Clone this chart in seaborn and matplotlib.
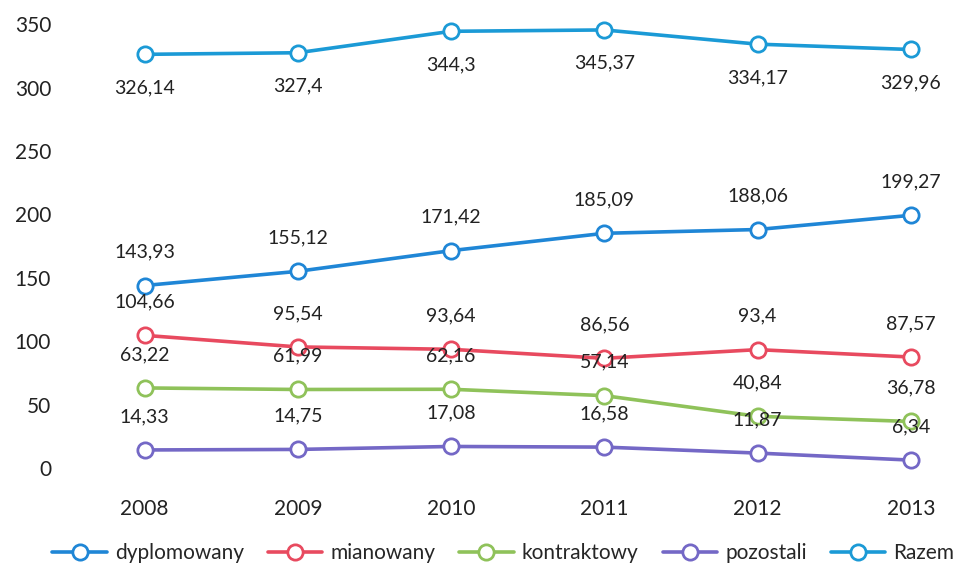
import matplotlib
matplotlib.use("Agg")
import matplotlib.pyplot as plt
import seaborn as sns
import pandas as pd

years = [2008, 2009, 2010, 2011, 2012, 2013]
dyplomowany = [143.93, 155.12, 171.42, 185.09, 188.06, 199.27]
mianowany = [104.66, 95.54, 93.64, 86.56, 93.4, 87.57]
kontraktowy = [63.22, 61.99, 62.16, 57.14, 40.84, 36.78]
pozostali = [14.33, 14.75, 17.08, 16.58, 11.87, 6.34]
razem = [326.14, 327.4, 344.3, 345.37, 334.17, 329.96]

series = [
    ("dyplomowany", dyplomowany, "#1f86d6", 1),
    ("mianowany", mianowany, "#e84a5f", 1),
    ("kontraktowy", kontraktowy, "#8fc25a", 1),
    ("pozostali", pozostali, "#7468c6", 1),
    ("Razem", razem, "#1b9ad6", -1),  # labels below the points
]

sns.set_style("white")
plt.rcParams["font.family"] = ["Lato", "DejaVu Sans"]

fig = plt.figure(figsize=(9.55, 5.73), dpi=100)
ax = fig.add_axes([0.068, 0.183, 0.921, 0.775])

for name, vals, color, side in series:
    df = pd.DataFrame({"rok": years, "v": vals})
    sns.lineplot(data=df, x="rok", y="v", ax=ax, color=color, linewidth=2.6,
                 marker="o", markersize=11, markerfacecolor="white",
                 markeredgecolor=color, markeredgewidth=2.0, label=name,
                 clip_on=False)
    for x, v in zip(years, vals):
        ax.annotate(f"{v:g}".replace(".", ","), (x, v), xytext=(0, 24 * side),
                    textcoords="offset points", ha="center", va="center",
                    fontsize=14, color="#222222")

ax.set_xlim(2007.48, 2013.22)
ax.set_ylim(0, 350)
ax.set_yticks(range(0, 351, 50))
ax.set_xticks(years)
ax.set_xticklabels([str(y) for y in years])
ax.tick_params(axis="both", length=0, labelsize=15, colors="#222222")
ax.tick_params(axis="x", pad=22)
ax.tick_params(axis="y", pad=10)
ax.set_xlabel("")
ax.set_ylabel("")
sns.despine(ax=ax, left=True, bottom=True)

handles, labels = ax.get_legend_handles_labels()
ax.legend_.remove()
fig.legend(handles, labels, loc="center", bbox_to_anchor=(0.527, 0.035), ncol=5,
           frameon=False, fontsize=15, handlelength=2.6, columnspacing=1.15,
           handletextpad=0.4)

fig.savefig("out.png", dpi=100)
